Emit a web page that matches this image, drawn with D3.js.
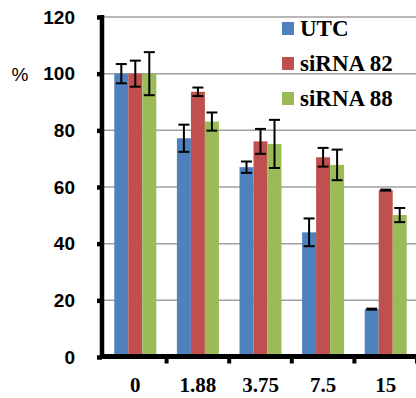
<!DOCTYPE html>
<html>
<head>
<meta charset="utf-8">
<script src="https://cdn.jsdelivr.net/npm/d3@7"></script>
<style>
    body { margin: 0; background: #fff; }
    svg { display: block; }
</style>
</head>
<body>
<script>
// chart data
var categories = ["0", "1.88", "3.75", "7.5", "15"];
var seriesNames = ["UTC", "siRNA 82", "siRNA 88"];
var utcValues = [100, 77.2, 67.0, 44.0, 16.9];
var utcErrors = [3.4, 4.8, 2.0, 4.9, 0.3];
var si82Values = [100, 93.6, 76.1, 70.5, 58.9];
var si82Errors = [4.6, 1.5, 4.4, 3.3, 0.4];
var si88Values = [100, 83.1, 75.2, 67.8, 50.1];
var si88Errors = [7.6, 3.2, 8.5, 5.4, 2.5];
var yTicks = [0, 20, 40, 60, 80, 100, 120];

var colors = ["#4F81BD", "#C0504D", "#9BBB59"];
var seriesValues = [utcValues, si82Values, si88Values];
var seriesErrors = [utcErrors, si82Errors, si88Errors];

var width = 416, height = 398;

var svg = d3.select("body").append("svg")
    .attr("width", width)
    .attr("height", height);

// scales
var xScale = d3.scaleBand().domain(categories).range([104, 417]);
var xSub = d3.scaleBand().domain(seriesNames)
    .range([10.3, 52.3]);
var yScale = d3.scaleLinear().domain([0, 120]).range([357, 17]);

// flatten rows for drawing
var rows = [];
categories.forEach(function(c, i) {
    seriesNames.forEach(function(s, j) {
        rows.push({cat: c, series: s, color: colors[j],
                   value: seriesValues[j][i], err: seriesErrors[j][i]});
    });
});

// gridlines
svg.append("g")
    .selectAll("line")
    .data(yTicks.filter(function(d) { return d > 0; }))
    .enter().append("line")
    .attr("x1", 104).attr("x2", width)
    .attr("y1", function(d) { return yScale(d); })
    .attr("y2", function(d) { return yScale(d); })
    .attr("stroke", "#a0a0a0")
    .attr("stroke-width", 1.5);

// bars
svg.append("g")
    .selectAll("rect")
    .data(rows)
    .enter().append("rect")
    .attr("x", function(d) { return xScale(d.cat) + xSub(d.series); })
    .attr("y", function(d) { return yScale(d.value); })
    .attr("width", xSub.bandwidth())
    .attr("height", function(d) { return yScale(0) - yScale(d.value); })
    .attr("fill", function(d) { return d.color; });

// error bars
var errG = svg.append("g")
    .attr("stroke", "#000")
    .attr("stroke-width", 2);
rows.forEach(function(d) {
    var cx = xScale(d.cat) + xSub(d.series) + xSub.bandwidth() / 2;
    var yt = yScale(d.value + d.err), yb = yScale(d.value - d.err);
    var cap = 5.5;
    if (d.err < 1) {
        errG.append("line")
            .attr("x1", cx - cap).attr("x2", cx + cap)
            .attr("y1", yScale(d.value)).attr("y2", yScale(d.value))
            .attr("stroke-width", 3);
        return;
    }
    errG.append("line").attr("x1", cx).attr("x2", cx)
        .attr("y1", yt).attr("y2", yb);
    errG.append("line").attr("x1", cx - cap).attr("x2", cx + cap)
        .attr("y1", yt).attr("y2", yt);
    errG.append("line").attr("x1", cx - cap).attr("x2", cx + cap)
        .attr("y1", yb).attr("y2", yb);
});

// y axis
var yAxis = d3.axisLeft(yScale).tickValues(yTicks)
    .tickSize(5).tickPadding(22);
var yG = svg.append("g")
    .attr("transform", "translate(102,0)")
    .call(yAxis);
yG.select(".domain").attr("stroke-width", 4.5)
    .attr("d", "M0,15V359");
yG.selectAll(".tick line").attr("stroke-width", 4.5);
yG.selectAll(".tick text")
    .attr("font-family", "'Liberation Sans', Arial, sans-serif")
    .attr("font-weight", "bold")
    .attr("font-size", "19px")
    .attr("fill", "#000");

// x axis with ticks at category boundaries
svg.append("line")
    .attr("x1", 100).attr("x2", width)
    .attr("y1", 356.5).attr("y2", 356.5)
    .attr("stroke", "#000").attr("stroke-width", 5);
svg.append("g")
    .selectAll("line")
    .data(categories)
    .enter().append("line")
    .attr("x1", function(d) { return xScale(d) + xScale.bandwidth(); })
    .attr("x2", function(d) { return xScale(d) + xScale.bandwidth(); })
    .attr("y1", 356).attr("y2", 363.5)
    .attr("stroke", "#000").attr("stroke-width", 4);
svg.append("g")
    .selectAll("text")
    .data(categories)
    .enter().append("text")
    .attr("x", function(d) { return xScale(d) + 31.3; })
    .attr("y", 391.5)
    .attr("text-anchor", "middle")
    .attr("font-family", "'Liberation Serif', 'Times New Roman', serif")
    .attr("font-weight", "bold")
    .attr("font-size", "21px")
    .text(function(d) { return d; });

// y label
svg.append("text")
    .attr("x", 20).attr("y", 81)
    .attr("text-anchor", "middle")
    .attr("font-family", "'Liberation Sans', Arial, sans-serif")
    .attr("font-size", "19px")
    .text("%");

// legend
var legend = svg.append("g")
    .selectAll("g")
    .data(seriesNames)
    .enter().append("g")
    .attr("transform", function(d, i) {
        return "translate(282," + (36 + i * 35) + ")";
    });
legend.append("rect")
    .attr("x", 0).attr("y", -14)
    .attr("width", 12).attr("height", 13)
    .attr("fill", function(d, i) { return colors[i]; });
legend.append("text")
    .attr("x", 18).attr("y", 0)
    .attr("font-family", "'Liberation Serif', 'Times New Roman', serif")
    .attr("font-weight", "bold")
    .attr("font-size", "23px")
    .text(function(d) { return d; });
</script>
</body>
</html>
